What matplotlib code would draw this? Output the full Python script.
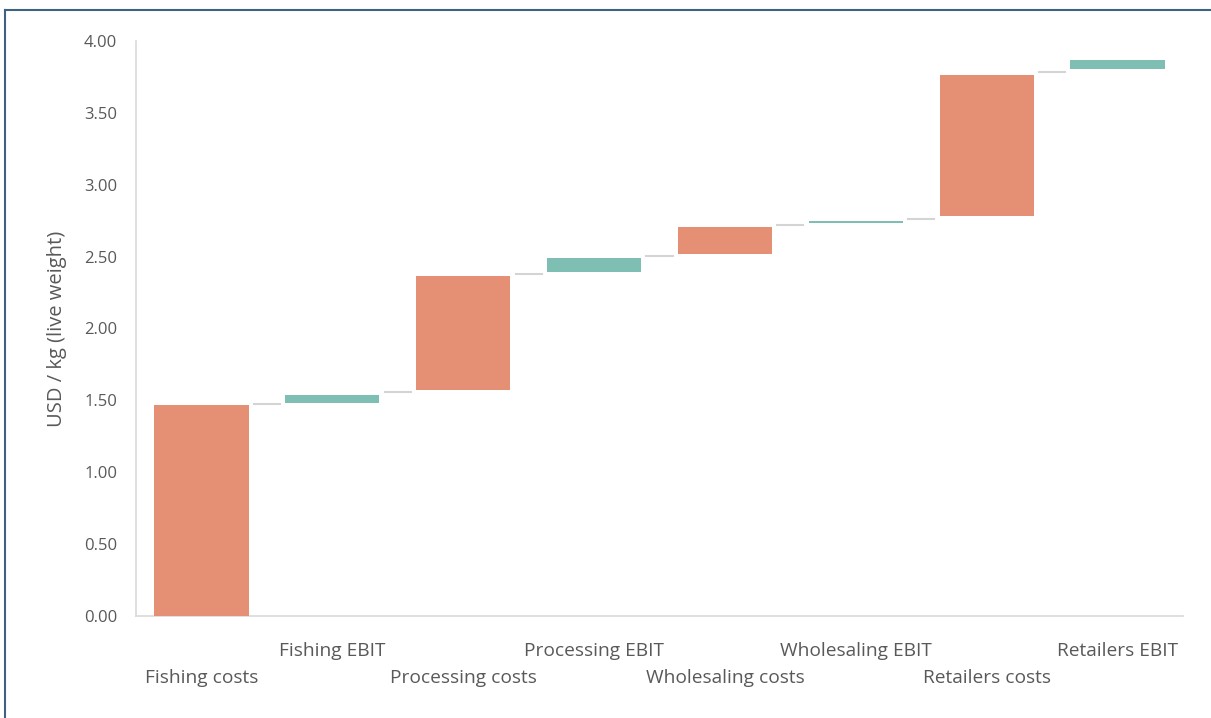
import numpy as np
import matplotlib.pyplot as plt
from matplotlib.lines import Line2D

plt.rcParams['font.family'] = ['Open Sans', 'DejaVu Sans']

categories = ['Fishing costs', 'Fishing EBIT', 'Processing costs', 'Processing EBIT',
              'Wholesaling costs', 'Wholesaling EBIT', 'Retailers costs', 'Retailers EBIT']
bottoms = [0.00, 1.48, 1.57, 2.39, 2.52, 2.737, 2.78, 3.805]
tops = [1.465, 1.54, 2.365, 2.49, 2.705, 2.745, 3.763, 3.866]
kinds = ['cost', 'ebit', 'cost', 'ebit', 'cost', 'ebit', 'cost', 'ebit']
yticks = [0.0, 0.5, 1.0, 1.5, 2.0, 2.5, 3.0, 3.5, 4.0]

colors = {'cost': '#E58F74', 'ebit': '#7FBFB3'}
x = np.arange(len(categories))
heights = np.array(tops) - np.array(bottoms)

fig = plt.figure(figsize=(12.11, 7.18), dpi=100)
ax = fig.add_axes([136 / 1211, 1 - 616 / 718, (1183 - 136) / 1211, (616 - 41) / 718])

ax.bar(x, heights, bottom=bottoms, width=0.72,
       color=[colors[k] for k in kinds], zorder=3)

# connector lines between bars
for i in range(len(x) - 1):
    lvl = (tops[i] + bottoms[i + 1]) / 2
    ax.plot([x[i] + 0.40, x[i + 1] - 0.40], [lvl, lvl], color='#d4d4d4', lw=1.5, zorder=2)

ax.set_xlim(-0.5, 7.5)
ax.set_ylim(0, 4.0)
ax.set_yticks(yticks)
ax.set_yticklabels([f'{v:.2f}' for v in yticks], fontsize=12, color='#595959')

# EBIT labels on the upper row (major ticks), costs on the lower row (minor ticks)
ebit_x = [i for i, k in enumerate(kinds) if k == 'ebit']
cost_x = [i for i, k in enumerate(kinds) if k == 'cost']
ax.set_xticks(ebit_x)
ax.set_xticklabels([categories[i] for i in ebit_x], fontsize=13.8, color='#595959')
ax.set_xticks(cost_x, minor=True)
ax.set_xticklabels([categories[i] for i in cost_x], minor=True, fontsize=13.8, color='#595959')
ax.tick_params(axis='both', which='both', length=0)
ax.tick_params(axis='x', which='major', pad=19)
ax.tick_params(axis='x', which='minor', pad=38.5)
ax.tick_params(axis='y', pad=13.5)
ax.set_ylabel('USD / kg (live weight)', fontsize=14.5, color='#595959', labelpad=12)

for s in ['top', 'right']:
    ax.spines[s].set_visible(False)
for s in ['left', 'bottom']:
    ax.spines[s].set_color('#d9d9d9')
    ax.spines[s].set_linewidth(1.2)

# outer frame (top and left edges)
fig.add_artist(Line2D([5 / 1211, 1], [1 - 10 / 718, 1 - 10 / 718], color='#3E6382', lw=1.5,
                      transform=fig.transFigure))
fig.add_artist(Line2D([5 / 1211, 5 / 1211], [0, 1 - 10 / 718], color='#3E6382', lw=1.5,
                      transform=fig.transFigure))

fig.savefig('out.png', dpi=100)
